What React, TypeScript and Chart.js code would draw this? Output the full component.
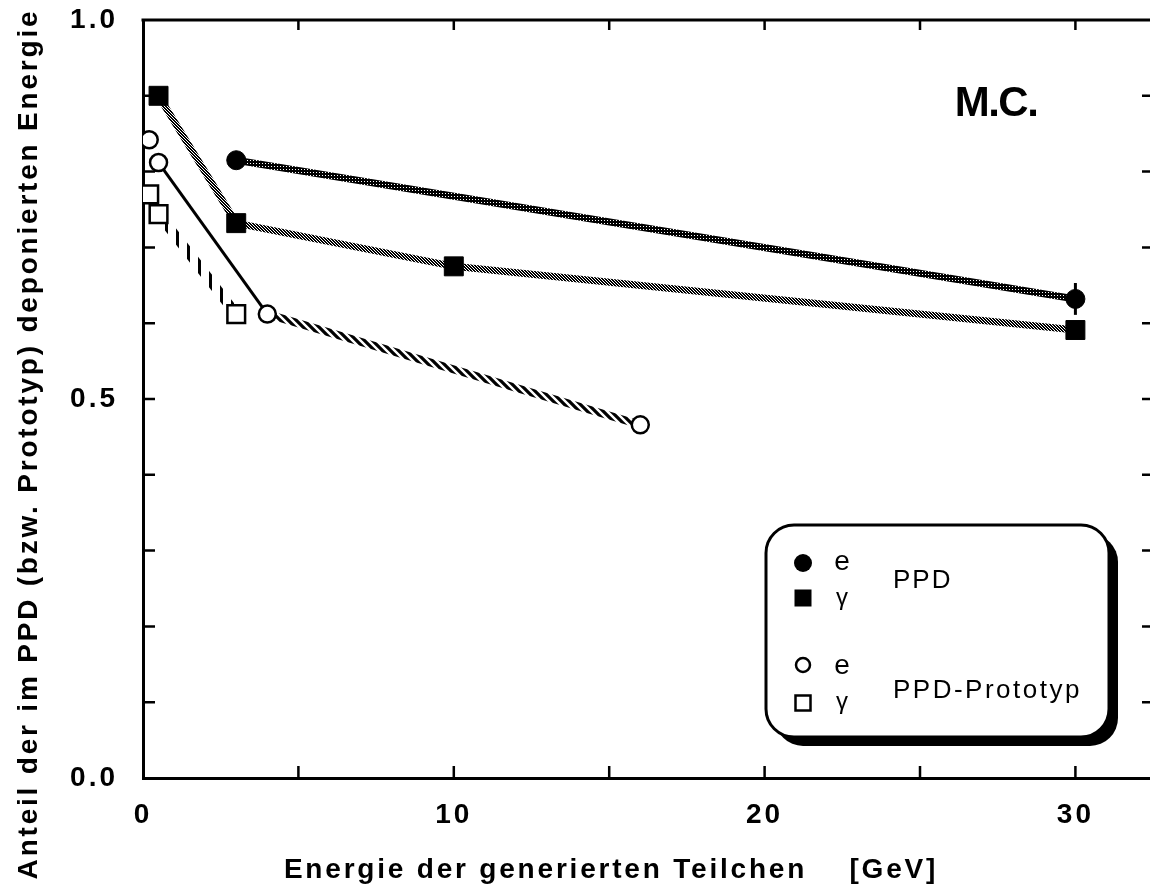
import React, { useEffect, useRef } from "react";
import { Chart, registerables } from "chart.js";

Chart.register(...registerables);

// ---- data ----
const ppdEX = [3, 30];
const ppdEY = [0.815, 0.632];
const ppdEErr = [0, 0.021];

const ppdGX = [0.5, 3, 10, 30];
const ppdGY = [0.9, 0.732, 0.675, 0.591];

const protoEX = [0.2, 0.5, 4, 16];
const protoEY = [0.842, 0.812, 0.612, 0.466];

const protoGX = [0.2, 0.5, 3];
const protoGY = [0.77, 0.744, 0.612];

const xTickValues = [0, 5, 10, 15, 20, 25, 30];
const xLabelValues = [0, 10, 20, 30];
const xTickLabels = ["0", "10", "20", "30"];
const yTickValues = [0, 0.1, 0.2, 0.3, 0.4, 0.5, 0.6, 0.7, 0.8, 0.9, 1.0];
const yLabelValues = [0, 0.5, 1.0];
const yTickLabels = ["0.0", "0.5", "1.0"];

const xTitle = "Energie der generierten Teilchen    [GeV]";
const yTitle = "Anteil der im PPD (bzw. Prototyp) deponierten Energie";
const mcLabel = "M.C.";
const legendGroups = ["PPD", "PPD-Prototyp"];
const legendParticles = ["e", "γ"];

const FONT = '"Liberation Sans", Arial, Helvetica, sans-serif';

const pts = (xs: number[], ys: number[]) => xs.map((x, i) => ({ x, y: ys[i] }));

function makePattern(ctx: CanvasRenderingContext2D, w: number, h: number, draw: (c: CanvasRenderingContext2D) => void) {
  const cv = document.createElement("canvas");
  cv.width = w;
  cv.height = h;
  const c = cv.getContext("2d")!;
  draw(c);
  return ctx.createPattern(cv, "repeat")!;
}

function drawMarker(ctx: CanvasRenderingContext2D, kind: string, x: number, y: number) {
  ctx.save();
  ctx.lineWidth = 2.5;
  ctx.strokeStyle = "#000";
  if (kind === "fc") {
    ctx.beginPath();
    ctx.arc(x, y, 9, 0, Math.PI * 2);
    ctx.fillStyle = "#000";
    ctx.fill();
  } else if (kind === "fs") {
    ctx.fillStyle = "#000";
    ctx.fillRect(x - 8.5, y - 8.5, 17, 17);
  } else if (kind === "oc") {
    ctx.beginPath();
    ctx.arc(x, y, 7, 0, Math.PI * 2);
    ctx.fillStyle = "#fff";
    ctx.fill();
    ctx.stroke();
  } else {
    ctx.fillStyle = "#fff";
    ctx.fillRect(x - 7.5, y - 7.5, 15, 15);
    ctx.strokeRect(x - 7.5, y - 7.5, 15, 15);
  }
  ctx.restore();
}

const framePlugin = {
  id: "frame",
  beforeDraw(chart: any) {
    const { ctx, width, height } = chart;
    ctx.save();
    ctx.fillStyle = "#fff";
    ctx.fillRect(0, 0, width, height);
    ctx.restore();
    (ctx as any).letterSpacing = "3px";
  },
  beforeDatasetsDraw(chart: any) {
    const { ctx, chartArea } = chart;
    (ctx as any).letterSpacing = "0px";
    const xs = chart.scales.x;
    const ys = chart.scales.y;
    ctx.save();
    ctx.strokeStyle = "#000";
    // top border
    ctx.lineWidth = 3;
    ctx.beginPath();
    ctx.moveTo(chartArea.left - 1.5, chartArea.top);
    ctx.lineTo(chartArea.right, chartArea.top);
    ctx.stroke();
    // inward ticks
    ctx.lineWidth = 2.5;
    ctx.beginPath();
    for (const v of yTickValues) {
      const py = ys.getPixelForValue(v);
      if (v > 0 && v < 1) {
        ctx.moveTo(chartArea.left, py);
        ctx.lineTo(chartArea.left + 12, py);
        ctx.moveTo(chartArea.right, py);
        ctx.lineTo(chartArea.right - 8, py);
      }
    }
    for (const v of xTickValues) {
      if (v === 0) continue;
      const px = xs.getPixelForValue(v);
      ctx.moveTo(px, chartArea.bottom);
      ctx.lineTo(px, chartArea.bottom - 12);
      ctx.moveTo(px, chartArea.top);
      ctx.lineTo(px, chartArea.top + 10);
    }
    ctx.stroke();
    // error bars
    ctx.lineWidth = 3;
    ctx.beginPath();
    ppdEX.forEach((x, i) => {
      const e = ppdEErr[i];
      if (!e) return;
      const px = xs.getPixelForValue(x);
      ctx.moveTo(px, ys.getPixelForValue(ppdEY[i] + e));
      ctx.lineTo(px, ys.getPixelForValue(ppdEY[i] - e));
    });
    ctx.stroke();
    ctx.restore();
  },
  afterDraw(chart: any) {
    const { ctx } = chart;
    ctx.save();
    (ctx as any).letterSpacing = "0px";
    ctx.fillStyle = "#000";
    // axis titles
    ctx.font = `bold 28px ${FONT}`;
    (ctx as any).letterSpacing = "2.8px";
    ctx.textAlign = "center";
    ctx.textBaseline = "alphabetic";
    ctx.fillText(xTitle, 611, 878);
    ctx.save();
    ctx.translate(37, 444);
    ctx.rotate(-Math.PI / 2);
    ctx.fillText(yTitle, 0, 0);
    ctx.restore();
    // M.C.
    ctx.font = `bold 42px ${FONT}`;
    (ctx as any).letterSpacing = "-1.5px";
    ctx.fillText(mcLabel, 996, 116);
    (ctx as any).letterSpacing = "0px";

    // legend box
    const bx = 766, by = 525, bw = 343, bh = 212, r = 28, sh = 9;
    ctx.beginPath();
    (ctx as any).roundRect(bx + sh, by + sh, bw, bh, r);
    ctx.fillStyle = "#000";
    ctx.fill();
    ctx.beginPath();
    (ctx as any).roundRect(bx, by, bw, bh, r);
    ctx.fillStyle = "#fff";
    ctx.fill();
    ctx.lineWidth = 3;
    ctx.strokeStyle = "#000";
    ctx.stroke();

    drawMarker(ctx, "fc", 803, 563);
    drawMarker(ctx, "fs", 803, 598);
    drawMarker(ctx, "oc", 803, 665);
    drawMarker(ctx, "os", 803, 703);

    ctx.fillStyle = "#000";
    ctx.textAlign = "center";
    ctx.textBaseline = "alphabetic";
    ctx.font = `28px ${FONT}`;
    ctx.fillText(legendParticles[0], 842, 570);
    ctx.fillText(legendParticles[0], 842, 674);
    ctx.font = `24px ${FONT}`;
    ctx.fillText(legendParticles[1], 842, 605);
    ctx.fillText(legendParticles[1], 842, 709);

    ctx.textAlign = "left";
    ctx.font = `26px ${FONT}`;
    (ctx as any).letterSpacing = "2px";
    ctx.fillText(legendGroups[0], 893, 588);
    (ctx as any).letterSpacing = "2.5px";
    ctx.fillText(legendGroups[1], 893, 698);
    ctx.restore();
  },
};

export default function App() {
  const ref = useRef<HTMLCanvasElement | null>(null);

  useEffect(() => {
    document.body.style.margin = "0";
    const canvas = ref.current!;
    const ctx = canvas.getContext("2d")!;

    const darkPat = makePattern(ctx, 3, 3, (c) => {
      c.fillStyle = "#000";
      c.fillRect(0, 0, 3, 3);
      c.fillStyle = "#fff";
      c.fillRect(1, 1, 1, 1);
    });
    const greyPat = makePattern(ctx, 3, 3, (c) => {
      c.fillStyle = "#000";
      c.fillRect(0, 0, 3, 3);
      c.fillStyle = "#fff";
      c.fillRect(1, 0, 1, 1);
      c.fillRect(0, 2, 1, 1);
      c.fillRect(2, 1, 1, 1);
    });
    const ropePat = makePattern(ctx, 8, 8, (c) => {
      c.fillStyle = "#fff";
      c.fillRect(0, 0, 8, 8);
      c.strokeStyle = "#000";
      c.lineWidth = 3.2;
      c.beginPath();
      c.moveTo(-2, -2);
      c.lineTo(10, 10);
      c.moveTo(-10, -2);
      c.lineTo(2, 10);
      c.moveTo(6, -2);
      c.lineTo(18, 10);
      c.stroke();
    });
    const barPat = makePattern(ctx, 11, 10, (c) => {
      c.clearRect(0, 0, 11, 10);
      c.fillStyle = "#000";
      c.fillRect(0, 0, 3, 10);
    });

    const lineDs = (data: any[], color: any, width: number) => ({
      data,
      showLine: true,
      borderColor: color,
      borderWidth: width,
      pointRadius: 0,
      fill: false,
      tension: 0,
      order: 2,
    });
    const markDs = (data: any[], style: string, radius: number, filled: boolean) => ({
      data,
      showLine: false,
      pointStyle: style,
      pointRadius: radius,
      pointBackgroundColor: filled ? "#000" : "#fff",
      pointBorderColor: "#000",
      pointBorderWidth: filled ? 1 : 2.5,
      order: 0,
    });

    const ppdE = pts(ppdEX, ppdEY);
    const ppdG = pts(ppdGX, ppdGY);
    const protoE = pts(protoEX, protoEY);
    const protoG = pts(protoGX, protoGY);

    const chart = new Chart(canvas, {
      type: "scatter",
      data: {
        datasets: [
          lineDs(ppdE, darkPat, 7),
          lineDs(ppdG, greyPat, 7),
          lineDs(protoE.slice(1, 3), "#000", 3),
          lineDs(protoE.slice(2), ropePat, 8),
          lineDs(protoG.slice(1), barPat, 10),
          markDs(ppdE, "circle", 9.5, true),
          markDs(ppdG, "rect", 13.4, true),
          markDs(protoE, "circle", 8.5, false),
          markDs(protoG, "rect", 12.5, false),
        ] as any,
      },
      options: {
        animation: false,
        responsive: false,
        events: [],
        layout: { autoPadding: false, padding: { top: 20, left: 0, right: 0, bottom: 0 } },
        plugins: { legend: { display: false }, tooltip: { enabled: false } },
        scales: {
          x: {
            type: "linear",
            min: 0,
            max: 32.4,
            afterFit: (s: any) => {
              s.height = 110;
              s.paddingLeft = 0;
              s.paddingRight = 0;
              s.paddingTop = 0;
              s.paddingBottom = 0;
            },
            afterBuildTicks: (s: any) => {
              s.ticks = xTickValues.map((v) => ({ value: v }));
            },
            grid: { display: false, drawTicks: false },
            border: { display: true, color: "#000", width: 3 },
            ticks: {
              autoSkip: false,
              maxRotation: 0,
              padding: 20,
              color: "#000",
              font: { family: FONT, size: 28, weight: "bold" },
              callback: (v: any) => {
                const i = xLabelValues.indexOf(Number(v));
                return i >= 0 ? xTickLabels[i] : "";
              },
            },
          },
          y: {
            type: "linear",
            min: 0,
            max: 1,
            afterFit: (s: any) => {
              s.width = 143;
              s.paddingLeft = 0;
              s.paddingRight = 0;
              s.paddingTop = 0;
              s.paddingBottom = 0;
            },
            afterBuildTicks: (s: any) => {
              s.ticks = yTickValues.map((v) => ({ value: v }));
            },
            grid: { display: false, drawTicks: false },
            border: { display: true, color: "#000", width: 3 },
            ticks: {
              autoSkip: false,
              padding: 25,
              color: "#000",
              font: { family: FONT, size: 28, weight: "bold" },
              callback: (v: any) => {
                const i = yLabelValues.findIndex((w) => Math.abs(w - Number(v)) < 1e-6);
                return i >= 0 ? yTickLabels[i] : "";
              },
            },
          },
        },
      } as any,
      plugins: [framePlugin],
    });

    return () => chart.destroy();
  }, []);

  return (
    <div style={{ width: 1150, height: 888, overflow: "hidden" }}>
      <canvas ref={ref} width={1150} height={888} style={{ display: "block" }} />
    </div>
  );
}
